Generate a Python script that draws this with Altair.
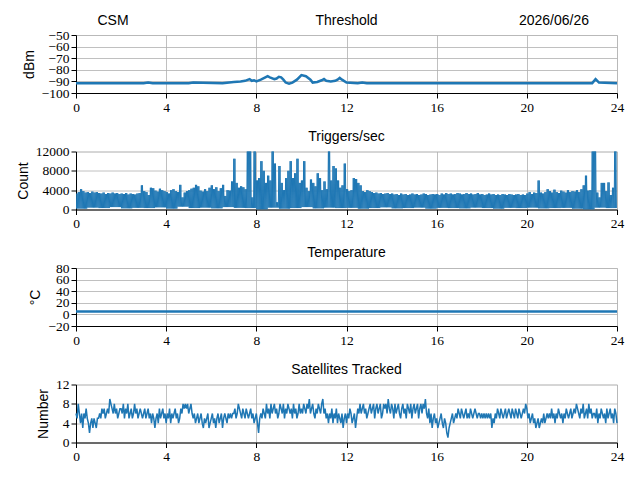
import altair as alt
import pandas as pd

# ---------------- data ----------------
x_ticks = [0, 4, 8, 12, 16, 20, 24]

# Threshold (dBm)
thr_hours = [0, 3.0, 3.2, 3.4, 5.0, 5.2, 6.5, 7.0, 7.3, 7.5, 7.7, 7.8, 7.9, 8.0,
             8.2, 8.4, 8.5, 8.6, 8.8, 8.9, 9.0, 9.1, 9.2, 9.3, 9.45, 9.6, 9.8,
             10.0, 10.2, 10.4, 10.5, 10.7, 10.9, 11.0, 11.1, 11.3, 11.5, 11.6,
             11.7, 11.8, 12.0, 12.5, 12.7, 12.9, 22.9, 23.05, 23.2, 24]
thr_values = [-91.5, -91.5, -91, -91.5, -91.5, -91, -91.5, -90.5, -90, -89.5,
              -88, -89.5, -89, -90, -88.5, -86.5, -85.5, -86.5, -88, -87.5,
              -86, -86.5, -88.5, -91, -92, -91, -88.5, -84.5, -85.5, -88.5,
              -91, -90.5, -89, -88, -89.5, -90, -89.5, -88.5, -87, -88.5,
              -91, -91.5, -91, -91.5, -91.5, -88, -91, -91.5]

# Triggers/sec: peak value of each 0.1 h bin
trig_high = [
    3300, 3600, 4200, 3800, 3500, 3600, 3400, 3700, 3500, 3600,
    3400, 3300, 3500, 3200, 3400, 3300, 3500, 3300, 3400, 3200,
    3300, 3200, 3400, 3100, 3300, 3200, 3100, 3300, 3400, 5000,
    3800, 3600, 3000, 4500, 4400, 3900, 3700, 4300, 4000, 3800,
    3600, 3300, 4000, 4200, 3800, 3600, 5100, 2500, 3500, 3800,
    4000, 4300, 4500, 5100, 4800, 3900, 3700, 4200, 3800, 4500,
    5000, 4200, 4600, 3800, 4400, 5100, 2800, 4000, 3900, 5800,
    10500, 5500, 4500, 4800, 4600, 4200, 15000, 15000, 2500, 15000,
    6000, 6500, 10000, 8000, 5500, 7000, 6000, 15000, 9500, 1500,
    9000, 5500, 4000, 6500, 8000, 10000, 6500, 7500, 10500, 5500,
    6000, 10000, 4500, 3800, 6200, 5500, 4800, 7500, 6500, 4000,
    5800, 4200, 15000, 6000, 9000, 8500, 6000, 4500, 5000, 9500,
    4200, 3800, 4000, 6500, 6300, 5500, 5000, 3800, 3600, 4000,
    3800, 3600, 3400, 3500, 3300, 3400, 3200, 3300, 3400, 3200,
    3300, 3100, 3200, 3000, 3300, 3100, 3200, 3000, 3100, 3300,
    3100, 3200, 3000, 3100, 3300, 3200, 3000, 3100, 3200, 3100,
    3200, 3000, 3300, 3100, 3400, 3200, 3300, 3100, 3200, 3400,
    3300, 3100, 3200, 3400, 3200, 3300, 3100, 3200, 3400, 3100,
    3200, 3000, 3100, 3300, 3100, 3200, 3000, 3100, 3000, 3200,
    3100, 3000, 3200, 3100, 3000, 3100, 3200, 3000, 3100, 3000,
    3300, 3600, 3200, 3500, 3400, 6000, 3500, 3300, 3600, 4200,
    3800, 3500, 4100, 3600, 3400, 3900, 3700, 3500, 4000, 3600,
    3800, 3700, 4000, 3600, 4200, 5000, 7000, 3900, 4000, 15000,
    15000, 3500, 2500, 5500, 5500, 3800, 5600, 3000, 4500, 15000,
]
# Triggers/sec: trough value of each 0.5 h block
trig_low = [
    200, 400, 300, 500, 250, 350, 300, 450, 200, 600, 300, 400,
    250, 500, 350, 300, 0, 400, 200, 300, 500, 250, 400, 300,
    350, 200, 300, 450, 250, 300, 400, 200, 350, 300, 250, 400,
    300, 200, 350, 300, 400, 250, 300, 350, 200, 0, 400, 300,
]

# Temperature (degC)
temp_hours = [0, 4, 8, 12, 16, 20, 24]
temp_values = [5, 5, 5, 5, 5, 5, 5]

# Satellites tracked (one digit per 0.05 h)
sat_digits = (
    "65864636575424535435"
    "56576756769876867567"
    "76857685675686756765"
    "67567564653564756756"
    "46574656756457687878"
    "67865645645643545634"
    "56453564563565465656"
    "67568765765765675645"
    "64256576586758678675"
    "68768576876758675686"
    "76876879678657687689"
    "67564657465746546356"
    "46576456357686786756"
    "78678578678568786976"
    "87586786578675876857"
    "86785786879657463564"
    "53456435421345645657"
    "65765675657656765665"
    "65656565635465765765"
    "67567657657657656768"
    "75645645345345464565"
    "65756465765646576567"
    "56768765768567586756"
    "65746576564756756476"
    "4"
)
sat_values = [int(c) for c in sat_digits]

# ---------------- tables ----------------
thr_df = pd.DataFrame({"hour": thr_hours, "value": thr_values})

t_h, t_v = [], []
for i, hv in enumerate(trig_high):
    lo = trig_low[i // 5]
    for k, v in enumerate([hv, lo, hv, lo]):
        t_h.append(i * 0.1 + k * 0.025)
        t_v.append(v)
trig_df = pd.DataFrame({"hour": t_h, "value": t_v})

temp_df = pd.DataFrame({"hour": temp_hours, "value": temp_values})

n = len(sat_values)
sat_df = pd.DataFrame({"hour": [i * 24 / (n - 1) for i in range(n)], "value": sat_values})

# ---------------- chart ----------------
BLUE = "#1f77b4"
W, H = 541, 58
SERIF = "Liberation Serif, Times New Roman, serif"
SANS = "Liberation Sans, Arial, sans-serif"


def axis(values, title=None):
    return alt.Axis(values=values, grid=True, gridColor="#b0b0b0", gridWidth=0.8,
                    tickColor="black", domainColor="black", tickSize=5,
                    labelFont=SERIF, labelFontSize=13.5, labelColor="black",
                    labelPadding=2, labelFlush=False, labelOverlap=False, format="d",
                    titleFont=SANS, titleFontSize=14, titleFontWeight="normal",
                    titleColor="black", titlePadding=5, title=title)


def panel(df, domain, yticks, ytitle, title=None, width=1.5, clip=False):
    props = dict(width=W, height=H)
    if title is not None:
        props["title"] = alt.TitleParams(title, font=SANS, fontSize=14, fontWeight="normal",
                                         color="black", offset=1)
    return alt.Chart(df).mark_line(color=BLUE, strokeWidth=width, clip=clip).encode(
        x=alt.X("hour:Q", scale=alt.Scale(domain=[0, 24], nice=False), axis=axis(x_ticks)),
        y=alt.Y("value:Q", scale=alt.Scale(domain=domain, nice=False, zero=False),
                axis=axis(yticks, ytitle)),
    ).properties(**props)


p1_line = panel(thr_df, [-100, -50], [-100, -90, -80, -70, -60, -50], "dBm", width=2.5)
labels_df = pd.DataFrame({"label": ["CSM", "Threshold", "2026/06/26"],
                          "pos": ["left", "center", "right"]})


def head(pos, xpix):
    return alt.Chart(labels_df).transform_filter(f"datum.pos == '{pos}'").mark_text(
        font=SANS, fontSize=14, color="black", baseline="middle").encode(
        text="label:N", x=alt.value(xpix), y=alt.value(-14))


p1 = alt.layer(p1_line, head("left", 37), head("center", W / 2), head("right", 478))

p2 = panel(trig_df, [0, 12000], [0, 4000, 8000, 12000], "Count", "Triggers/sec", width=1.0, clip=True)
p3 = panel(temp_df, [-20, 80], [-20, 0, 20, 40, 60, 80], "°C", "Temperature", width=2.5)
p4 = panel(sat_df, [0, 12], [0, 4, 8, 12], "Number", "Satellites Tracked", width=1.5)

chart = alt.vconcat(p1, p2, p3, p4, spacing=14.5).properties(
    padding={"left": 7, "top": 5, "right": 5, "bottom": 5}
).configure_view(stroke="black", strokeWidth=1).configure(background="white")

chart.save("out.html", embed_options={"renderer": "svg", "actions": False})
